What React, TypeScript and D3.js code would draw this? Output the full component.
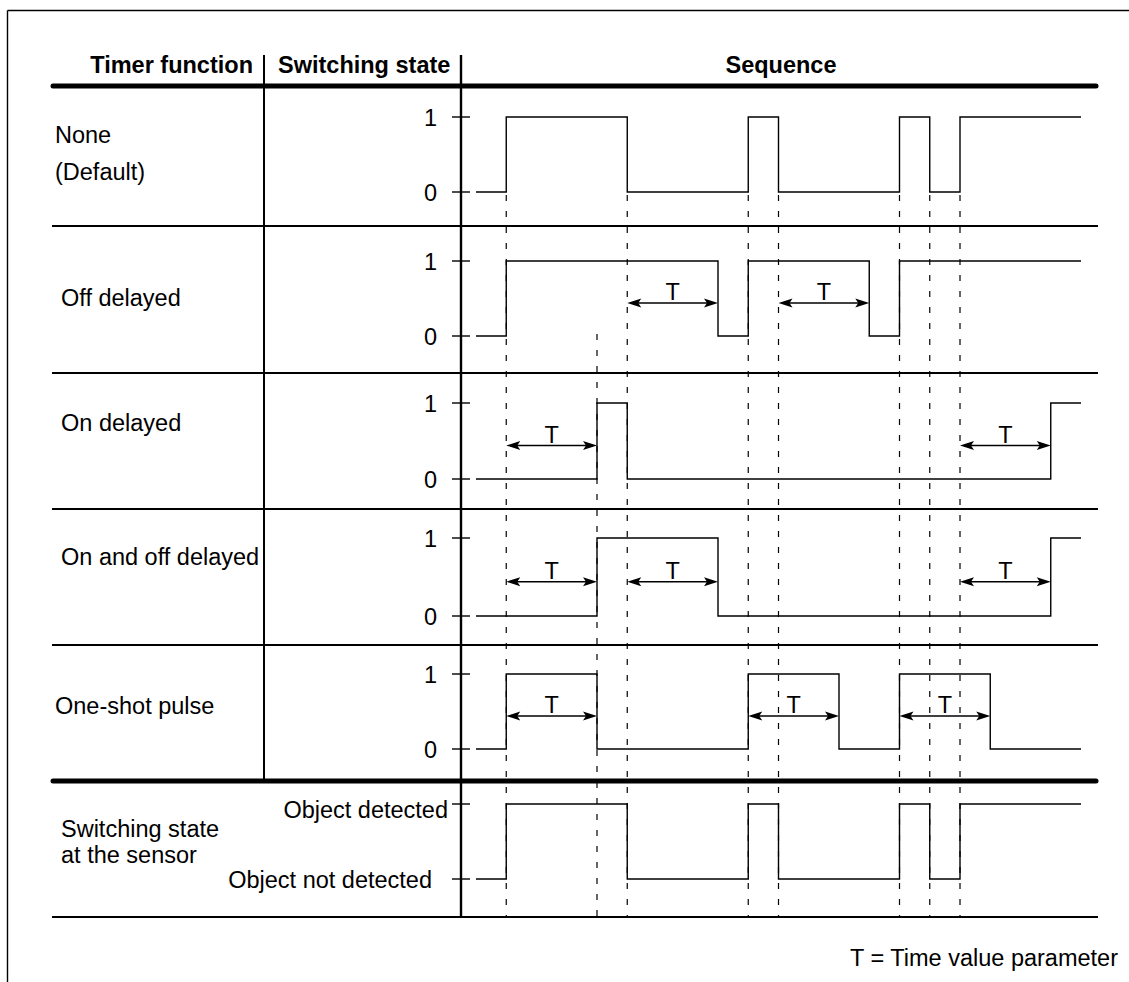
import React from 'react';
import * as d3 from 'd3';

// ---------- data ----------
const HEADERS = ['Timer function', 'Switching state', 'Sequence'];
const ROW_TITLES: string[][] = [
  ['None', '(Default)'],
  ['Off delayed'],
  ['On delayed'],
  ['On and off delayed'],
  ['One-shot pulse'],
  ['Switching state', 'at the sensor'],
];
const STATE_LABELS = ['1', '0'];
const SENSOR_LABELS = ['Object detected', 'Object not detected'];
const T_LABEL = 'T';
const NOTE = 'T = Time value parameter';

const TIME_DOMAIN = [0, 20];

const NONE_TIMES = [0, 1, 5, 9, 10, 14, 15, 16, 20];
const NONE_VALUES = [0, 1, 0, 1, 0, 1, 0, 1, 1];
const OFF_TIMES = [0, 1, 8, 9, 13, 14, 20];
const OFF_VALUES = [0, 1, 0, 1, 0, 1, 1];
const ON_TIMES = [0, 4, 5, 19, 20];
const ON_VALUES = [0, 1, 0, 1, 1];
const ONOFF_TIMES = [0, 4, 8, 19, 20];
const ONOFF_VALUES = [0, 1, 0, 1, 1];
const ONESHOT_TIMES = [0, 1, 4, 9, 12, 14, 17, 20];
const ONESHOT_VALUES = [0, 1, 0, 1, 0, 1, 0, 0];
const SENSOR_TIMES = [0, 1, 5, 9, 10, 14, 15, 16, 20];
const SENSOR_VALUES = [0, 1, 0, 1, 0, 1, 0, 1, 1];

const OFF_T_SPANS = [[5, 8], [10, 13]];
const ON_T_SPANS = [[1, 4], [16, 19]];
const ONOFF_T_SPANS = [[1, 4], [5, 8], [16, 19]];
const ONESHOT_T_SPANS = [[1, 4], [9, 12], [14, 17]];

const SENSOR_EDGES = [1, 5, 9, 10, 14, 15, 16];
const DELAYED_EDGES = [4];

// ---------- layout ----------
const W = 1129;
const H = 982;
const FONT = '"Liberation Sans", Arial, Helvetica, sans-serif';
const FS = 23.5;
const HIGH_Y = [117, 261, 403, 538, 674, 804];
const LOW_Y = [192, 336, 479, 616, 749, 879];
const SEP_Y = [226, 373, 509, 645];
const HEADER_Y = 86;
const THICK2_Y = 781;
const BOTTOM_Y = 917;
const COL1_X = 264;
const COL2_X = 461;
const TITLE_X = [55, 61, 61, 61, 55, 61];
const TITLE_BASE = [[143, 180], [306], [431], [565], [714], [837, 863]];

const x = d3.scaleLinear().domain(TIME_DOMAIN).range([476, 1081]);

const series = [
  { times: NONE_TIMES, values: NONE_VALUES, spans: [] as number[][] },
  { times: OFF_TIMES, values: OFF_VALUES, spans: OFF_T_SPANS },
  { times: ON_TIMES, values: ON_VALUES, spans: ON_T_SPANS },
  { times: ONOFF_TIMES, values: ONOFF_VALUES, spans: ONOFF_T_SPANS },
  { times: ONESHOT_TIMES, values: ONESHOT_VALUES, spans: ONESHOT_T_SPANS },
  { times: SENSOR_TIMES, values: SENSOR_VALUES, spans: [] as number[][] },
];

function Arrow({ x1, x2, y }: { x1: number; x2: number; y: number }) {
  const L = 14, hw = 4.5, n = 11;
  return (
    <g>
      <line x1={x1 + 4} x2={x2 - 4} y1={y} y2={y} stroke="#000" strokeWidth={1.6} />
      <path d={`M${x1},${y} L${x1 + L},${y - hw} L${x1 + n},${y} L${x1 + L},${y + hw} Z`} fill="#000" />
      <path d={`M${x2},${y} L${x2 - L},${y - hw} L${x2 - n},${y} L${x2 - L},${y + hw} Z`} fill="#000" />
    </g>
  );
}

export default function App() {
  const textStyle = { fontFamily: FONT, fontSize: FS } as React.CSSProperties;
  return (
    <svg
      width={W}
      height={H}
      viewBox={`0 0 ${W} ${H}`}
      style={{ position: 'absolute', left: 0, top: 0, background: '#fff' }}
    >
      <rect x={0} y={0} width={W} height={H} fill="#fff" />
      {/* frame */}
      <line x1={7.5} x2={W} y1={10.5} y2={10.5} stroke="#000" strokeWidth={1.4} />
      <line x1={7.5} x2={7.5} y1={10.5} y2={H} stroke="#000" strokeWidth={1.4} />

      {/* header */}
      <text x={253} y={73} textAnchor="end" fontWeight="bold" style={textStyle}>{HEADERS[0]}</text>
      <text x={278} y={73} fontWeight="bold" style={textStyle}>{HEADERS[1]}</text>
      <text x={781} y={73} textAnchor="middle" fontWeight="bold" style={textStyle}>{HEADERS[2]}</text>

      {/* separators */}
      <line x1={53} x2={1096} y1={HEADER_Y} y2={HEADER_Y} stroke="#000" strokeWidth={5} strokeLinecap="round" />
      {SEP_Y.map((y, i) => (
        <line key={i} x1={52} x2={1098} y1={y} y2={y} stroke="#000" strokeWidth={2} />
      ))}
      <line x1={53} x2={1096} y1={THICK2_Y} y2={THICK2_Y} stroke="#000" strokeWidth={5} strokeLinecap="round" />
      <line x1={52} x2={1098} y1={BOTTOM_Y} y2={BOTTOM_Y} stroke="#000" strokeWidth={2} />

      {/* column dividers */}
      <line x1={COL1_X} x2={COL1_X} y1={55} y2={THICK2_Y} stroke="#000" strokeWidth={2} />
      <line x1={COL2_X} x2={COL2_X} y1={55} y2={BOTTOM_Y} stroke="#000" strokeWidth={2.4} />

      {/* dashed edge markers */}
      {SENSOR_EDGES.map((t, i) => (
        <line key={'d' + i} x1={x(t)} x2={x(t)} y1={LOW_Y[0] + 3} y2={BOTTOM_Y} stroke="#000" strokeWidth={1.2} strokeDasharray="6,10" />
      ))}
      {DELAYED_EDGES.map((t, i) => (
        <line key={'e' + i} x1={x(t)} x2={x(t)} y1={LOW_Y[1] - 2} y2={BOTTOM_Y} stroke="#000" strokeWidth={1.2} strokeDasharray="6,10" />
      ))}

      {/* rows */}
      {series.map((s, r) => {
        const y = d3.scaleLinear().domain([0, 1]).range([LOW_Y[r], HIGH_Y[r]]);
        const pts = s.times.map((t, i) => [t, s.values[i]] as [number, number]);
        const path = d3
          .line<[number, number]>()
          .x((d) => x(d[0]))
          .y((d) => y(d[1]))
          .curve(d3.curveStepAfter)(pts) as string;
        const arrowY = HIGH_Y[r] + 0.56 * (LOW_Y[r] - HIGH_Y[r]);
        const labels = r === 5 ? SENSOR_LABELS : STATE_LABELS;
        return (
          <g key={r}>
            {ROW_TITLES[r].map((line, k) => (
              <text key={k} x={TITLE_X[r]} y={TITLE_BASE[r][k]} style={textStyle}>{line}</text>
            ))}
            {/* ticks */}
            {[1, 0].map((v) => (
              <line key={'t' + v} x1={452} x2={470} y1={y(v)} y2={y(v)} stroke="#000" strokeWidth={1.4} />
            ))}
            {r === 5 ? (
              <>
                <text x={448} y={y(1) + 14} textAnchor="end" style={textStyle}>{labels[0]}</text>
                <text x={432} y={y(0) + 9} textAnchor="end" style={textStyle}>{labels[1]}</text>
              </>
            ) : (
              <>
                <text x={437} y={y(1) + 8.5} textAnchor="end" style={textStyle}>{labels[0]}</text>
                <text x={437} y={y(0) + 8.5} textAnchor="end" style={textStyle}>{labels[1]}</text>
              </>
            )}
            <path d={path} fill="none" stroke="#000" strokeWidth={1.4} />
            {s.spans.map((sp, k) => (
              <g key={'a' + k}>
                <Arrow x1={x(sp[0])} x2={x(sp[1])} y={arrowY} />
                <text x={(x(sp[0]) + x(sp[1])) / 2} y={arrowY - 3} textAnchor="middle" style={textStyle}>{T_LABEL}</text>
              </g>
            ))}
          </g>
        );
      })}

      {/* note */}
      <text x={1118} y={966} textAnchor="end" style={textStyle}>{NOTE}</text>
    </svg>
  );
}
